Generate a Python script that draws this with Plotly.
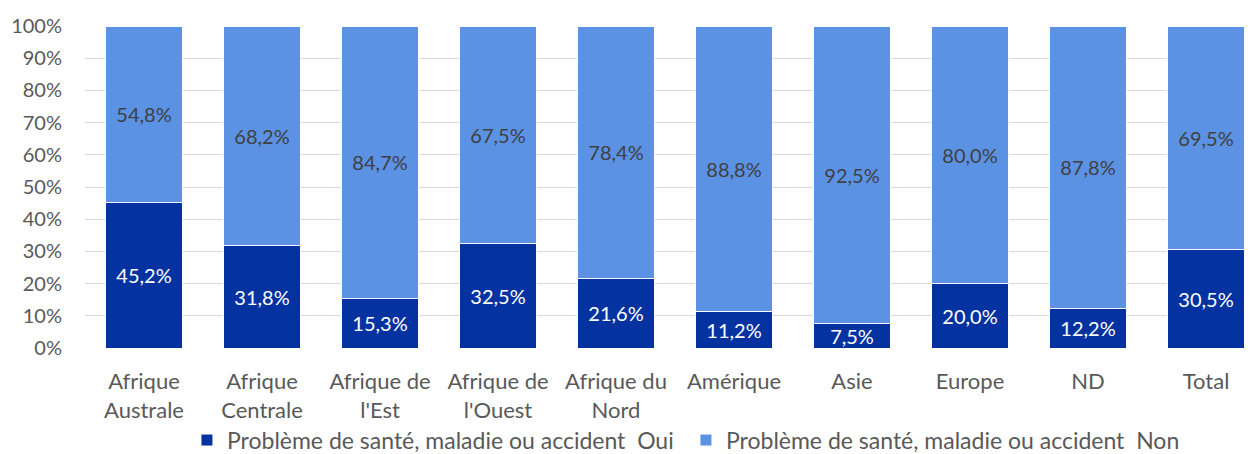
import plotly.graph_objects as go

categories = ["Afrique<br>Australe", "Afrique<br>Centrale", "Afrique de<br>l'Est", "Afrique de<br>l'Ouest",
              "Afrique du<br>Nord", "Amérique", "Asie", "Europe", "ND", "Total"]
oui = [45.2, 31.8, 15.3, 32.5, 21.6, 11.2, 7.5, 20.0, 12.2, 30.5]
non = [54.8, 68.2, 84.7, 67.5, 78.4, 88.8, 92.5, 80.0, 87.8, 69.5]
series_names = ["Problème de santé, maladie ou accident  Oui", "Problème de santé, maladie ou accident  Non"]
y_ticks = [0, 10, 20, 30, 40, 50, 60, 70, 80, 90, 100]

FONT = "Lato"
x = list(range(len(categories)))

def fmt(v):
    return f"{v:.1f}%".replace(".", ",")

fig = go.Figure()
fig.add_trace(go.Bar(
    x=x, y=oui, name=series_names[0],
    marker=dict(color="#0433A1", line=dict(color="white", width=1)),
    text=[fmt(v) for v in oui], textposition="inside", insidetextanchor="middle",
    constraintext="none",
    textfont=dict(color="white", size=20, family=FONT), width=0.66,
))
fig.add_trace(go.Bar(
    x=x, y=non, name=series_names[1],
    marker=dict(color="#5B92E4", line=dict(color="white", width=1)),
    text=[fmt(v) for v in non], textposition="inside", insidetextanchor="middle",
    constraintext="none",
    textfont=dict(color="#404040", size=20, family=FONT), width=0.66,
))

fig.update_layout(
    barmode="stack",
    width=1245, height=446,
    margin=dict(l=77, r=0, t=18, b=106, autoexpand=False),
    paper_bgcolor="white", plot_bgcolor="white",
    font=dict(family=FONT, size=20, color="#595959"),
    showlegend=True,
    legend=dict(orientation="h", x=0.0873, xanchor="left", y=-0.286, yanchor="middle",
                traceorder="normal", entrywidth=454, entrywidthmode="pixels",
                bgcolor="rgba(0,0,0,0)",
                font=dict(size=23, color="#595959"), itemwidth=30, tracegroupgap=0),
    bargap=0.34,
)
fig.update_xaxes(
    tickvals=x, ticktext=categories, range=[-0.5, 9.398],
    showgrid=False, zeroline=False, showline=False, ticks="",
    automargin=False, ticklabelstandoff=18,
    tickfont=dict(size=22, color="#595959", family=FONT),
)
fig.update_yaxes(
    range=[0, 100], tickvals=y_ticks, ticktext=[f"{v}%" for v in y_ticks],
    showgrid=True, gridcolor="#D9D9D9", gridwidth=1, zeroline=False,
    ticks="", ticklabelstandoff=22, automargin=False,
    tickfont=dict(size=20, color="#595959", family=FONT),
)

fig.write_html("out.html")
